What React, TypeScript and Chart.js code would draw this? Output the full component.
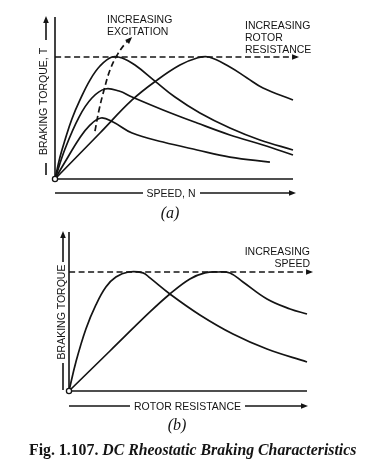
import React, { useEffect, useRef } from "react";
import { Chart, registerables } from "chart.js";

Chart.register(...registerables);

const INK = "#141414";
const SANS = '"Liberation Sans", Arial, sans-serif';
const SERIF = '"Liberation Serif", "Times New Roman", serif';

// ---------- (a) Braking torque vs speed (speed: % of axis length, torque: % of max torque)
const A_SPEED_MAX = 102;
const A_TORQUE_MAX = 132.8;
const A_AXIS_END = 100;

const A1_SPEED = [0, 2.1, 4.2, 7.1, 10.5, 14.7, 18.9, 23.9, 28.2, 33.6, 42.0, 50.4, 60.9, 73.5, 86.1, 100];
const A1_TORQUE = [0, 18.0, 32.0, 49.2, 64.8, 81.1, 92.6, 100, 99.2, 93.4, 80.3, 67.2, 54.1, 41.8, 32.0, 23.8];

const A2_SPEED = [0, 4.2, 10.1, 15.5, 21.0, 26.9, 32.4, 45.4, 59.7, 73.5, 87.4, 100];
const A2_TORQUE = [0, 24.6, 50.8, 66.4, 73.8, 72.1, 67.2, 56.6, 45.9, 36.1, 27.9, 19.7];

const A3_SPEED = [0, 4.2, 10.1, 14.3, 19.3, 24.4, 32.4, 45.4, 59.7, 73.5, 90.3];
const A3_TORQUE = [0, 13.9, 32.8, 43.4, 50.0, 46.7, 37.7, 30.3, 23.8, 18.0, 13.9];

const A4_SPEED = [0, 18.9, 32.4, 42.9, 52.5, 59.7, 64.7, 73.5, 80.7, 87.4, 100];
const A4_TORQUE = [0, 37.7, 64.8, 81.1, 93.4, 99.2, 100, 91.8, 82.8, 74.6, 64.8];

const EXC_SPEED = [16.8, 18.5, 20.6, 23.1, 26.1, 29.4, 32.4];
const EXC_TORQUE = [39.3, 56.6, 73.0, 89.3, 101.6, 110.7, 116.4];

const A_LIMIT_SPEED = [0, 101.7];
const A_LIMIT_TORQUE = [100, 100];

// ---------- (b) Braking torque vs rotor resistance
const B_RES_MAX = 102;
const B_TORQUE_MAX = 133.6;
const B_AXIS_END = 100;

const B1_RES = [0, 2.9, 7.1, 11.3, 15.5, 19.7, 25.0, 31.1, 34.0, 42.4, 55.0, 68.9, 83.2, 100];
const B1_TORQUE = [0, 24.4, 52.1, 72.3, 87.4, 95.8, 100, 99.2, 95.0, 81.5, 63.9, 47.9, 35.3, 24.4];

const B2_RES = [0, 17.2, 34.0, 42.4, 50.8, 57.1, 62.6, 67.6, 73.1, 83.2, 92.9, 100];
const B2_TORQUE = [0, 33.6, 66.4, 81.5, 94.1, 99.2, 100, 99.2, 91.6, 77.3, 68.9, 64.7];

const B_LIMIT_RES = [0, 101.7];
const B_LIMIT_TORQUE = [100, 100];

// ---------- labels
const A_EXC_LABEL = ["INCREASING", "EXCITATION"];
const A_RES_LABEL = ["INCREASING", "ROTOR", "RESISTANCE"];
const A_X_LABEL = "SPEED, N";
const A_Y_LABEL = "BRAKING TORQUE, T";
const B_SPEED_LABEL = ["INCREASING", "SPEED"];
const B_X_LABEL = "ROTOR RESISTANCE";
const B_Y_LABEL = "BRAKING TORQUE";

// ---------- helpers
const pts = (xs: number[], ys: number[]) => xs.map((x, i) => ({ x, y: ys[i] }));

const solid = (xs: number[], ys: number[]) => ({
  data: pts(xs, ys),
  borderColor: INK,
  borderWidth: 1.7,
  pointRadius: 0,
  fill: false,
  clip: false,
  tension: 0.4,
});
const dashed = (xs: number[], ys: number[]) => ({ ...solid(xs, ys), borderDash: [6, 3.5] });

function seg(ctx: CanvasRenderingContext2D, x1: number, y1: number, x2: number, y2: number) {
  ctx.beginPath();
  ctx.moveTo(x1, y1);
  ctx.lineTo(x2, y2);
  ctx.stroke();
}
function head(ctx: CanvasRenderingContext2D, fx: number, fy: number, tx: number, ty: number, len = 7, half = 2.8) {
  const a = Math.atan2(ty - fy, tx - fx);
  ctx.beginPath();
  ctx.moveTo(tx, ty);
  ctx.lineTo(tx - len * Math.cos(a) + half * Math.sin(a), ty - len * Math.sin(a) - half * Math.cos(a));
  ctx.lineTo(tx - len * Math.cos(a) - half * Math.sin(a), ty - len * Math.sin(a) + half * Math.cos(a));
  ctx.closePath();
  ctx.fill();
}
function txt(ctx: CanvasRenderingContext2D, s: string, x: number, y: number, align: CanvasTextAlign) {
  ctx.save();
  ctx.translate(x, y);
  ctx.scale(1, 1.12);
  ctx.textAlign = align;
  ctx.textBaseline = "alphabetic";
  ctx.fillText(s, 0, 0);
  ctx.restore();
}
function vtxt(ctx: CanvasRenderingContext2D, s: string, cx: number, cy: number) {
  ctx.save();
  ctx.translate(cx, cy);
  ctx.rotate(-Math.PI / 2);
  ctx.scale(1, 1.12);
  ctx.textAlign = "center";
  ctx.textBaseline = "middle";
  ctx.fillText(s, 0, 0);
  ctx.restore();
}
function origin(ctx: CanvasRenderingContext2D, x: number, y: number) {
  ctx.save();
  ctx.beginPath();
  ctx.arc(x, y, 2.6, 0, Math.PI * 2);
  ctx.fillStyle = "#fff";
  ctx.fill();
  ctx.lineWidth = 1.3;
  ctx.stroke();
  ctx.restore();
}

type Draw = (ctx: CanvasRenderingContext2D, X: (v: number) => number, Y: (v: number) => number) => void;

function decor(id: string, offsetY: number, draw: Draw) {
  return {
    id,
    afterDatasetsDraw(chart: any) {
      const ctx: CanvasRenderingContext2D = chart.ctx;
      const xs = chart.scales.x;
      const ys = chart.scales.y;
      ctx.save();
      ctx.translate(0, -offsetY);
      ctx.strokeStyle = INK;
      ctx.fillStyle = INK;
      ctx.lineWidth = 1.6;
      ctx.setLineDash([]);
      ctx.font = `10.5px ${SANS}`;
      draw(ctx, (v) => xs.getPixelForValue(v), (v) => ys.getPixelForValue(v) + offsetY);
      ctx.restore();
    },
  };
}

const A_TOP = 0;
const B_TOP = 225;

const drawA: Draw = (ctx, X, Y) => {
  seg(ctx, X(0), Y(0), X(A_AXIS_END), Y(0));
  seg(ctx, X(0), Y(0), X(0), Y(A_TORQUE_MAX));
  const n = A_LIMIT_SPEED.length - 1;
  head(ctx, X(A_LIMIT_SPEED[n - 1]), Y(A_LIMIT_TORQUE[n - 1]), X(A_LIMIT_SPEED[n]) + 2, Y(A_LIMIT_TORQUE[n]));
  const m = EXC_SPEED.length - 1;
  head(ctx, X(EXC_SPEED[m - 1]), Y(EXC_TORQUE[m - 1]), X(EXC_SPEED[m]), Y(EXC_TORQUE[m]));
  origin(ctx, X(0), Y(0));
  A_EXC_LABEL.forEach((s, i) => txt(ctx, s, 107, 23.3 + i * 11.7, "left"));
  A_RES_LABEL.forEach((s, i) => txt(ctx, s, 245, 29.3 + i * 12, "left"));
  txt(ctx, A_X_LABEL, 171, 197, "center");
  seg(ctx, 55, 193, 143, 193);
  seg(ctx, 200, 193, 290, 193);
  head(ctx, 280, 193, 296, 193);
  vtxt(ctx, A_Y_LABEL, 44, 101.5);
  seg(ctx, 46, 175, 46, 163);
  seg(ctx, 46, 40, 46, 22);
  head(ctx, 46, 40, 46, 16);
};

const drawB: Draw = (ctx, X, Y) => {
  seg(ctx, X(0), Y(0), X(B_AXIS_END), Y(0));
  seg(ctx, X(0), Y(0), X(0), Y(B_TORQUE_MAX));
  const n = B_LIMIT_RES.length - 1;
  head(ctx, X(B_LIMIT_RES[n - 1]), Y(B_LIMIT_TORQUE[n - 1]), X(B_LIMIT_RES[n]) + 2, Y(B_LIMIT_TORQUE[n]));
  origin(ctx, X(0), Y(0));
  B_SPEED_LABEL.forEach((s, i) => txt(ctx, s, 310, 255 + i * 11.7, "right"));
  txt(ctx, B_X_LABEL, 187.5, 410, "center");
  seg(ctx, 69, 406, 130, 406);
  seg(ctx, 245, 406, 302, 406);
  head(ctx, 290, 406, 308, 406);
  vtxt(ctx, B_Y_LABEL, 62, 312);
  seg(ctx, 63, 390, 63, 363);
  seg(ctx, 63, 262, 63, 237);
  head(ctx, 63, 262, 63, 231);
};

function config(
  datasets: any[],
  xMax: number,
  yMax: number,
  padding: { left: number; right: number; top: number; bottom: number },
  plugin: any
): any {
  return {
    type: "line",
    data: { datasets },
    options: {
      animation: false,
      responsive: false,
      events: [],
      layout: { padding },
      plugins: { legend: { display: false }, tooltip: { enabled: false } },
      scales: {
        x: { type: "linear", min: 0, max: xMax, display: false },
        y: { type: "linear", min: 0, max: yMax, display: false },
      },
    },
    plugins: [plugin],
  };
}

export default function App() {
  const refA = useRef<HTMLCanvasElement>(null);
  const refB = useRef<HTMLCanvasElement>(null);

  useEffect(() => {
    const a = new Chart(
      refA.current!,
      config(
        [
          solid(A1_SPEED, A1_TORQUE),
          solid(A2_SPEED, A2_TORQUE),
          solid(A3_SPEED, A3_TORQUE),
          solid(A4_SPEED, A4_TORQUE),
          dashed(A_LIMIT_SPEED, A_LIMIT_TORQUE),
          dashed(EXC_SPEED, EXC_TORQUE),
        ],
        A_SPEED_MAX,
        A_TORQUE_MAX,
        { left: 55, right: 75.24, top: 17, bottom: 46 },
        decor("decorA", A_TOP, drawA)
      )
    );
    const b = new Chart(
      refB.current!,
      config(
        [solid(B1_RES, B1_TORQUE), solid(B2_RES, B2_TORQUE), dashed(B_LIMIT_RES, B_LIMIT_TORQUE)],
        B_RES_MAX,
        B_TORQUE_MAX,
        { left: 69, right: 61.24, top: 7, bottom: 77 },
        decor("decorB", B_TOP, drawB)
      )
    );
    return () => {
      a.destroy();
      b.destroy();
    };
  }, []);

  return (
    <div
      style={{
        position: "absolute",
        left: 0,
        top: 0,
        width: 373,
        height: 468,
        background: "#fff",
        overflow: "hidden",
        color: INK,
      }}
    >
      <canvas ref={refA} width={373} height={225} style={{ position: "absolute", left: 0, top: A_TOP }} />
      <canvas ref={refB} width={373} height={243} style={{ position: "absolute", left: 0, top: B_TOP }} />
      <div
        style={{
          position: "absolute",
          left: 140,
          width: 60,
          top: 205,
          textAlign: "center",
          font: `italic 16px ${SERIF}`,
          lineHeight: "16px",
        }}
      >
        (a)
      </div>
      <div
        style={{
          position: "absolute",
          left: 147,
          width: 60,
          top: 417,
          textAlign: "center",
          font: `italic 16px ${SERIF}`,
          lineHeight: "16px",
        }}
      >
        (b)
      </div>
      <div
        style={{
          position: "absolute",
          left: 29,
          top: 442,
          whiteSpace: "nowrap",
          font: `bold 15.8px ${SERIF}`,
          lineHeight: "15.8px",
        }}
      >
        Fig. 1.107. <span style={{ fontStyle: "italic" }}>DC Rheostatic Braking Characteristics</span>
      </div>
    </div>
  );
}
